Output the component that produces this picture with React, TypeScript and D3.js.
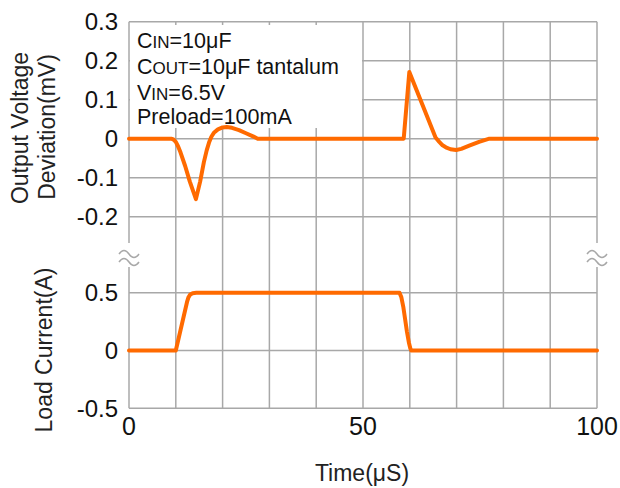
import React from "react";
import * as d3 from "d3";

const xTicks = [0, 50, 100];
const xGrid = [0, 10, 20, 30, 40, 50, 60, 70, 80, 90, 100];
const vTicks = [0.3, 0.2, 0.1, 0, -0.1, -0.2];
const iTicks = [0.5, 0, -0.5];
const vTickLabels = ["0.3", "0.2", "0.1", "0", "-0.1", "-0.2"];
const iTickLabels = ["0.5", "0", "-0.5"];

const voltageT = [0, 9, 9.5, 10, 10.5, 11, 12, 13, 14.3, 15.2, 16, 16.6, 17.1, 17.6, 18.2, 19, 20, 20.9, 22, 23.5, 25, 26.5, 27.5, 58.7, 59.9, 65.5, 66.3, 67, 67.7, 68.7, 69.9, 71, 72.7, 74.8, 77, 100];
const voltageV = [0, 0, -0.002, -0.008, -0.02, -0.035, -0.07, -0.11, -0.155, -0.11, -0.06, -0.03, -0.01, 0.005, 0.016, 0.024, 0.029, 0.03, 0.028, 0.022, 0.014, 0.006, 0, 0, 0.171, 0.003, -0.008, -0.017, -0.022, -0.027, -0.029, -0.026, -0.018, -0.008, 0, 0];

const currentT = [0, 10, 12.4, 12.7, 13.1, 13.6, 14.4, 57.8, 58.2, 58.6, 59, 59.4, 59.8, 60.1, 60.3, 100];
const currentI = [0, 0, 0.42, 0.46, 0.485, 0.496, 0.5, 0.5, 0.46, 0.38, 0.27, 0.16, 0.07, 0.02, 0, 0];

const W = 620;
const H = 488;
const GRID = "#a8a8a8";
const ORANGE = "#ff6a00";
const FONT = "'Liberation Sans', Arial, sans-serif";

export default function App() {
  const x = d3.scaleLinear().domain([0, 100]).range([129, 597]);
  const yV = d3.scaleLinear().domain([-0.2, 0.3]).range([216.7, 21.7]);
  const yI = d3.scaleLinear().domain([-0.5, 0.5]).range([408.3, 292.7]);

  const vLine = d3
    .line<number>()
    .x((_, i) => x(voltageT[i]))
    .y((d) => yV(d));
  const iLine = d3
    .line<number>()
    .x((_, i) => x(currentT[i]))
    .y((d) => yI(d));

  const top = yV(0.3);
  const bottom = yI(-0.5);
  const gapTop = 243;
  const gapBot = 267;
  const breakY = 257;

  const boxX0 = x(0) + 1;
  const boxX1 = x(50) - 1;
  const boxY0 = 25;
  const boxY1 = 128;

  const breakSym = (cx: number) => (
    <g stroke={GRID} strokeWidth={1.5} fill="none">
      <path d={`M${cx - 10},${breakY - 3} q5,-7 10,0 t10,0`} />
      <path d={`M${cx - 10},${breakY + 5} q5,-7 10,0 t10,0`} />
    </g>
  );

  return (
    <svg width={W} height={H} style={{ position: "absolute", left: 0, top: 0, background: "#fff" }} fontFamily={FONT}>
      <rect x={0} y={0} width={W} height={H} fill="#fff" />
      {xGrid.map((t) => {
        const isEdge = t === 0 || t === 100;
        return isEdge ? (
          <g key={t}>
            <line x1={x(t)} x2={x(t)} y1={top} y2={gapTop} stroke={GRID} strokeWidth={1.5} />
            <line x1={x(t)} x2={x(t)} y1={gapBot} y2={bottom} stroke={GRID} strokeWidth={1.5} />
          </g>
        ) : (
          <line key={t} x1={x(t)} x2={x(t)} y1={top} y2={bottom} stroke={GRID} strokeWidth={1.5} />
        );
      })}
      {vTicks.map((v) => (
        <line key={"v" + v} x1={x(0)} x2={x(100)} y1={yV(v)} y2={yV(v)} stroke={GRID} strokeWidth={1.5} />
      ))}
      {iTicks.map((v) => (
        <line key={"i" + v} x1={x(0)} x2={x(100)} y1={yI(v)} y2={yI(v)} stroke={GRID} strokeWidth={1.5} />
      ))}
      {breakSym(x(0))}
      {breakSym(x(100))}

      <rect x={boxX0} y={boxY0} width={boxX1 - boxX0} height={boxY1 - boxY0} fill="#fff" />
      <g fontSize={21.5} fill="#111">
        <text x={137} y={48}>
          C<tspan fontSize={17}>IN</tspan>=10μF
        </text>
        <text x={137} y={74}>
          C<tspan fontSize={17}>OUT</tspan>=10μF tantalum
        </text>
        <text x={137} y={100}>
          V<tspan fontSize={17}>IN</tspan>=6.5V
        </text>
        <text x={137} y={124}>Preload=100mA</text>
      </g>

      <path d={vLine(voltageV) || ""} fill="none" stroke={ORANGE} strokeWidth={4} strokeLinejoin="round" strokeLinecap="round" />
      <path d={iLine(currentI) || ""} fill="none" stroke={ORANGE} strokeWidth={4} strokeLinejoin="round" strokeLinecap="round" />

      <g fontSize={24} fill="#111" textAnchor="end">
        {vTicks.map((v, i) => (
          <text key={"vt" + v} x={118} y={yV(v) + 8.5}>
            {vTickLabels[i]}
          </text>
        ))}
        {iTicks.map((v, i) => (
          <text key={"it" + v} x={118} y={yI(v) + 8.5}>
            {iTickLabels[i]}
          </text>
        ))}
      </g>
      <g fontSize={25} fill="#111" textAnchor="middle">
        {xTicks.map((t) => (
          <text key={"xt" + t} x={x(t)} y={435}>
            {t}
          </text>
        ))}
      </g>

      <g fontSize={23} fill="#222" textAnchor="middle">
        <text transform={`translate(28,128) rotate(-90)`}>Output Voltage</text>
        <text transform={`translate(55,127) rotate(-90)`}>Deviation(mV)</text>
        <text transform={`translate(52,350) rotate(-90)`}>Load Current(A)</text>
        <text x={362} y={481}>Time(μS)</text>
      </g>
    </svg>
  );
}
